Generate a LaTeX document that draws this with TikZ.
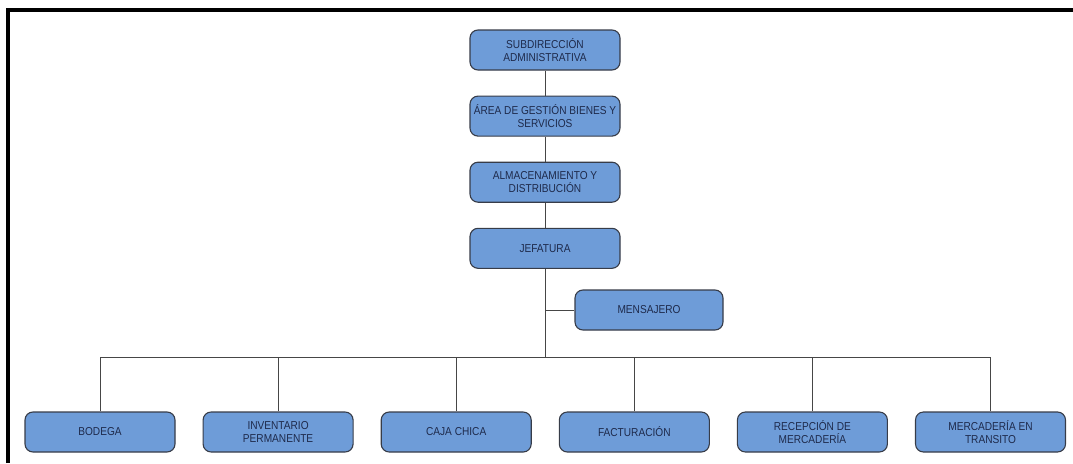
\documentclass[tikz,border=0pt]{standalone}
\usepackage{fontspec}
\setmainfont{Liberation Sans}
\newfontfamily\unitfont[FakeStretch=0.88]{Liberation Sans}
\usepackage{xcolor}
\usepackage{tikz}
\usetikzlibrary{positioning,calc}

\definecolor{unitfill}{RGB}{110,156,216}
\definecolor{unitline}{RGB}{55,60,72}
\definecolor{unittext}{RGB}{30,42,75}
\definecolor{linkgray}{RGB}{70,70,70}

\begin{document}
\begin{tikzpicture}[
    x=1pt, y=-1pt,
    unitbox/.style={rectangle, rounded corners=8pt, draw=unitline, line width=1.1pt,
        fill=unitfill, text=unittext, minimum width=150pt, minimum height=40pt,
        align=center, font=\unitfont\fontsize{11.5}{13}\selectfont, inner sep=1pt},
    link/.style={draw=linkgray, line width=0.9pt},
    node distance=25pt and 28pt
]
    \useasboundingbox (0,0) rectangle (1073,463);
    % frame
    \draw[line width=4pt] (8,463) -- (8,10) -- (1075,10);

    % main chain
    \node[unitbox] (subdir) at (545,50) {SUBDIRECCIÓN\\ADMINISTRATIVA};
    \node[unitbox, below=of subdir] (area) {ÁREA DE GESTIÓN BIENES Y\\SERVICIOS};
    \node[unitbox, below=of area] (almacen) {ALMACENAMIENTO Y\\DISTRIBUCIÓN};
    \node[unitbox, below=of almacen] (jefatura) {JEFATURA};
    \node[unitbox, minimum width=148pt] (mensajero) at (649,310) {MENSAJERO};

    % bottom row
    \node[unitbox] (bodega) at (100,432) {BODEGA};
    \node[unitbox, right=27pt of bodega] (inventario) {INVENTARIO\\PERMANENTE};
    \node[unitbox, right=27pt of inventario] (caja) {CAJA CHICA};
    \node[unitbox, right=27pt of caja] (factura) {FACTURACIÓN};
    \node[unitbox, right=27pt of factura] (recepcion) {RECEPCIÓN DE\\MERCADERÍA};
    \node[unitbox, right=27pt of recepcion] (transito) {MERCADERÍA EN\\TRANSITO};

    \coordinate (bus) at (545,357);

    % connectors
    \draw[link] (subdir) -- (area);
    \draw[link] (area) -- (almacen);
    \draw[link] (almacen) -- (jefatura);
    \draw[link] (jefatura) -- (bus);
    \draw[link] (jefatura.south |- mensajero) -- (mensajero.west);
    \draw[link] (bodega.north |- bus) -- (transito.north |- bus);
    \foreach \n in {bodega,inventario,caja,factura,recepcion,transito}
        \draw[link] (\n.north) -- (\n.north |- bus);
\end{tikzpicture}
\end{document}
